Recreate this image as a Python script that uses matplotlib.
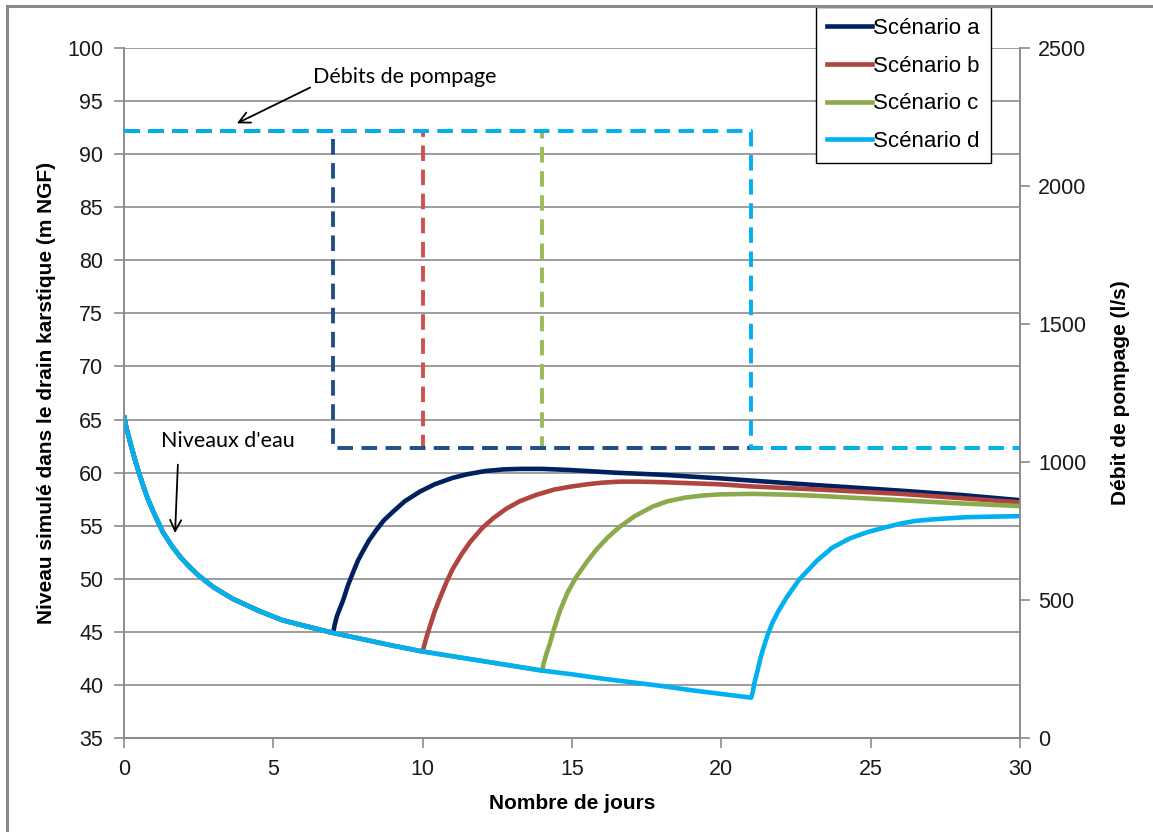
import matplotlib
matplotlib.use("Agg")
import matplotlib.pyplot as plt
from matplotlib.lines import Line2D

plt.rcParams['font.family'] = ['Liberation Sans', 'DejaVu Sans']

# descente commune des niveaux (pompage fort)
jours_baisse = [0, 0.03, 0.08, 0.15, 0.22, 0.3, 0.4, 0.5, 0.65, 0.8, 1.0, 1.15, 1.3,
                1.6, 1.9, 2.2, 2.5, 3.0, 3.65, 4.5, 5.3, 6.0, 7.0, 8.0, 9.0, 10.0,
                11.0, 12.0, 13.0, 14.0, 15.0, 16.0, 17.0, 18.0, 19.0, 20.0, 21.0]
niveau_baisse = [65.4, 64.9, 64.2, 63.5, 62.7, 61.9, 60.9, 60.0, 58.7, 57.5, 56.2,
                 55.3, 54.4, 53.1, 52.0, 51.1, 50.3, 49.2, 48.1, 47.0, 46.1, 45.6,
                 44.9, 44.3, 43.7, 43.15, 42.7, 42.25, 41.8, 41.35, 41.0, 40.6, 40.25,
                 39.9, 39.5, 39.15, 38.8]

# remontees apres reduction du pompage
jours_a = [7.05, 7.12, 7.2, 7.34, 7.5, 7.67, 7.83, 8.0, 8.2, 8.45, 8.7, 9.0, 9.4,
           9.9, 10.4, 11.0, 11.5, 12.1, 12.7, 13.25, 14.0, 14.9, 16.4, 18.0, 20.0,
           21.0, 23.3, 26.0, 28.0, 30.0]
niveau_a = [45.6, 46.4, 47.0, 48.0, 49.4, 50.6, 51.7, 52.6, 53.6, 54.6, 55.5, 56.3,
            57.3, 58.2, 58.9, 59.5, 59.85, 60.15, 60.3, 60.35, 60.35, 60.25, 60.0,
            59.8, 59.45, 59.25, 58.8, 58.3, 57.9, 57.4]

jours_b = [10.07, 10.15, 10.24, 10.4, 10.58, 10.8, 11.0, 11.3, 11.6, 12.0, 12.36,
           12.8, 13.25, 13.8, 14.4, 15.0, 15.5, 16.0, 16.6, 17.2, 18.0, 19.95, 21.0,
           23.3, 26.0, 28.0, 30.0]
niveau_b = [43.9, 44.7, 45.5, 46.9, 48.2, 49.7, 50.9, 52.3, 53.5, 54.8, 55.7, 56.6,
            57.3, 57.9, 58.4, 58.7, 58.9, 59.05, 59.15, 59.15, 59.1, 58.9, 58.7,
            58.4, 58.0, 57.6, 57.2]

jours_c = [14.05, 14.15, 14.26, 14.4, 14.6, 14.85, 15.15, 15.5, 15.8, 16.2, 16.6,
           17.1, 17.7, 18.2, 18.8, 19.4, 19.95, 21.07, 22.5, 23.3, 26.0, 28.0, 30.0]
niveau_c = [42.0, 43.0, 43.9, 45.3, 47.0, 48.7, 50.2, 51.6, 52.7, 53.9, 54.9, 55.9,
            56.8, 57.3, 57.65, 57.85, 57.95, 58.0, 57.9, 57.8, 57.4, 57.1, 56.85]

jours_d = [21.05, 21.1, 21.2, 21.3, 21.4, 21.55, 21.7, 21.9, 22.2, 22.6, 23.2, 23.7,
           24.3, 24.9, 25.5, 26.0, 26.5, 27.1, 28.2, 29.0, 30.0]
niveau_d = [39.3, 40.1, 41.2, 42.4, 43.4, 44.7, 45.8, 46.9, 48.3, 49.9, 51.7, 52.9,
            53.8, 54.4, 54.85, 55.2, 55.45, 55.6, 55.8, 55.85, 55.9]

# debits de pompage (l/s)
debit_fort = 2200
debit_reduit = 1050
jour_arret = [7, 10, 14, 21]
jour_fin = [25, 25, 25, 30]

noms = ['Scénario a', 'Scénario b', 'Scénario c', 'Scénario d']
couleurs = ['#002060', '#B0443F', '#8AAA4C', '#00B0F0']
couleurs_debit = ['#1F4E8A', '#D0504D', '#9BBB59', '#00B0F0']

remontees = [(jours_a, niveau_a), (jours_b, niveau_b), (jours_c, niveau_c), (jours_d, niveau_d)]

fig = plt.figure(figsize=(11.53, 8.32), dpi=100)
ax = fig.add_axes([124 / 1153, 1 - 738 / 832, (1020 - 124) / 1153, (738 - 48) / 832])
ax2 = ax.twinx()

grey = '#8C8C8C'
for i, (jr, nr) in enumerate(remontees):
    arret = jour_arret[i]
    jb = [j for j in jours_baisse if j <= arret]
    nb = niveau_baisse[:len(jb)]
    ax.plot(jb + jr, nb + nr, color=couleurs[i], lw=3.3, solid_capstyle='butt',
            solid_joinstyle='round', zorder=3 + i)

# pump lines (c, b, a first, d on top)
for i in [2, 1, 0, 3]:
    xs = [0, jour_arret[i], jour_arret[i], jour_fin[i]]
    ys = [debit_fort, debit_fort, debit_reduit, debit_reduit]
    ax2.plot(xs, ys, color=couleurs_debit[i], lw=2.8, dashes=(4, 2.2), zorder=3)

ax.set_xlim(0, 30)
ax.set_ylim(35, 100)
ax2.set_ylim(0, 2500)
ax.set_xticks(range(0, 31, 5))
ax.set_yticks(range(35, 101, 5))
ax2.set_yticks(range(0, 2501, 500))

ax.grid(axis='y', color=grey, lw=1.2)
ax.set_axisbelow(True)
for a in (ax, ax2):
    a.spines['top'].set_visible(False)
    for s in ('left', 'right', 'bottom'):
        a.spines[s].set_color(grey)
        a.spines[s].set_linewidth(1.2)
ax.tick_params(axis='both', direction='out', length=7, width=1.2, color=grey,
               labelsize=15.5, labelcolor='#1a1a1a')
ax.tick_params(axis='y', pad=8)
ax.tick_params(axis='x', pad=8)
ax2.tick_params(axis='y', direction='out', length=7, width=1.2, color=grey,
                labelsize=15.5, labelcolor='#1a1a1a', pad=6)

ax.set_xlabel('Nombre de jours', fontsize=15, fontweight='bold', labelpad=10)
ax.set_ylabel('Niveau simulé dans le drain karstique (m NGF)', fontsize=15,
              fontweight='bold', labelpad=8)
ax2.set_ylabel('Débit de pompage (l/s)', fontsize=15, fontweight='bold', labelpad=18)

# annotations
ax.annotate('Débits de pompage', xy=(3.78, 92.9), xytext=(9.4, 97.3),
            fontsize=15.5, family=['Lato', 'DejaVu Sans'], ha='center', va='center',
            arrowprops=dict(arrowstyle='->', color='black', lw=1.3,
                            shrinkA=0, shrinkB=0, mutation_scale=20,
                            relpos=(0.05, 0.25)))
ax.annotate("Niveaux d'eau", xy=(1.71, 54.3), xytext=(3.48, 63.0),
            fontsize=15.5, family=['Lato', 'DejaVu Sans'], ha='center', va='center',
            arrowprops=dict(arrowstyle='->', color='black', lw=1.3,
                            shrinkA=8, shrinkB=0, mutation_scale=20, relpos=(0.13, 0)))

handles = [Line2D([], [], color=c, lw=3.3) for c in couleurs]
leg = ax2.legend(handles, noms, loc='upper left', bbox_to_anchor=(816 / 1153, 1 - 7 / 832),
                 bbox_transform=fig.transFigure, fontsize=16, frameon=True, fancybox=False,
                 edgecolor='black', framealpha=1, handlelength=2.0, handletextpad=0.08,
                 borderpad=0.5, labelspacing=0.75, borderaxespad=0)
leg.get_frame().set_linewidth(1.0)
leg.set_zorder(20)

# outer border of the chart area
fig.add_artist(Line2D([7 / 1153, 7 / 1153], [0, 1 - 6 / 832], color='#888888', lw=2.2,
                      transform=fig.transFigure))
fig.add_artist(Line2D([7 / 1153, 1], [1 - 6 / 832, 1 - 6 / 832], color='#888888', lw=2.2,
                      transform=fig.transFigure))

fig.savefig('out.png', dpi=100)
